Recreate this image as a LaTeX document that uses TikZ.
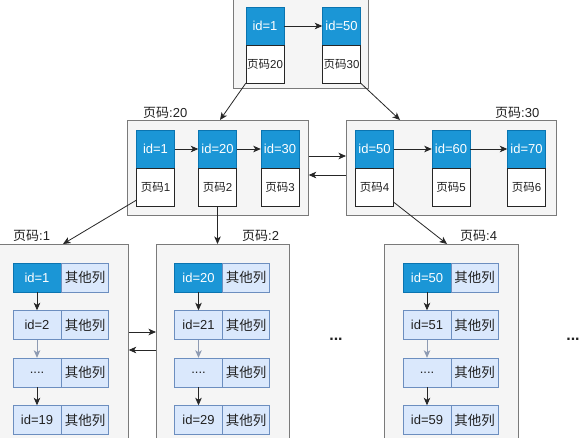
\documentclass[tikz,border=0pt]{standalone}
\usepackage{fontspec}
\setmainfont{Liberation Sans}
\newfontfamily\cjk{Noto Sans CJK SC}
\usetikzlibrary{arrows.meta,calc}
\definecolor{idblue}{HTML}{1B96D6}
\definecolor{idborder}{HTML}{0A74B0}
\definecolor{cfill}{HTML}{F5F5F5}
\definecolor{cdraw}{HTML}{7A7A7A}
\definecolor{rfill}{HTML}{DAE8FC}
\definecolor{rdraw}{HTML}{6C8EBF}
\definecolor{txt}{HTML}{222222}
\definecolor{grayarrow}{HTML}{8E9BB3}
\begin{document}
\begin{tikzpicture}[x=1pt,y=-1pt,
  container/.style={draw=cdraw, fill=cfill, line width=0.7pt, inner sep=0pt, anchor=north west},
  idbox/.style={draw=idborder, fill=idblue, text=white, minimum width=38pt, minimum height=38pt, inner sep=0pt, font=\fontsize{13}{15}\selectfont},
  pgbox/.style={draw=black!85, fill=white, minimum width=38pt, minimum height=38pt, inner sep=0pt, text=txt, font=\fontsize{11.5}{13}\selectfont},
  rowid/.style={draw=rdraw, fill=rfill, minimum width=48pt, minimum height=29pt, inner sep=0pt, text=txt, font=\fontsize{13}{15}\selectfont},
  rowidb/.style={rowid, draw=idborder, fill=idblue, text=white},
  rowoth/.style={rowid, minimum width=47pt, font=\fontsize{13.5}{15}\selectfont},
  plabel/.style={anchor=base west, inner sep=0pt, text=txt, font=\fontsize{13}{15}\selectfont},
  conn/.style={-{Stealth[length=7.5pt,width=6.5pt,inset=2pt]}, line width=0.8pt, draw=black!85},
  gconn/.style={conn, draw=grayarrow},
  dots/.style={inner sep=0pt, text=txt, font=\fontsize{16}{18}\selectfont\bfseries}
]
\useasboundingbox (0,0) rectangle (588,437);
\clip (0,0) rectangle (588,437);
\fill[white] (0,0) rectangle (588,437);

% ---------- top container ----------
\node[container, minimum width=135pt, minimum height=93pt] (ctop) at (233,-5) {};
\node[idbox] (t1) at (265,26) {id=1};
\node[pgbox] (t1p) at (265,64) {{\cjk 页码}20};
\node[idbox] (t50) at (341.5,26) {id=50};
\node[pgbox] (t50p) at (341.5,64) {{\cjk 页码}30};
\draw[conn] (t1.east) -- (t50.west);

% ---------- middle containers ----------
\node[container, minimum width=181pt, minimum height=95pt] (c20) at (127,120) {};
\node[plabel] (l20) at (143,117) {{\cjk 页码}:20};
\node[idbox] (m1) at (155.5,149) {id=1};
\node[pgbox] (m1p) at (155.5,187) {{\cjk 页码}1};
\node[idbox] (m20) at (217.5,149) {id=20};
\node[pgbox] (m20p) at (217.5,187) {{\cjk 页码}2};
\node[idbox] (m30) at (280,149) {id=30};
\node[pgbox] (m30p) at (280,187) {{\cjk 页码}3};
\draw[conn] (m1.east) -- (m20.west);
\draw[conn] (m20.east) -- (m30.west);

\node[container, minimum width=210pt, minimum height=95pt] (c30) at (346,120) {};
\node[plabel] (l30) at (495,117) {{\cjk 页码}:30};
\node[idbox] (m50) at (374.5,149) {id=50};
\node[pgbox] (m50p) at (374.5,187) {{\cjk 页码}4};
\node[idbox] (m60) at (451,149) {id=60};
\node[pgbox] (m60p) at (451,187) {{\cjk 页码}5};
\node[idbox] (m70) at (526.5,149) {id=70};
\node[pgbox] (m70p) at (526.5,187) {{\cjk 页码}6};
\draw[conn] (m50.east) -- (m60.west);
\draw[conn] (m60.east) -- (m70.west);

\draw[conn] ($(c20.north east)+(0,36)$) -- ($(c30.north west)+(0,36)$);
\draw[conn] ($(c30.north west)+(0,55)$) -- ($(c20.north east)+(0,55)$);

% top -> middle
\draw[conn] (t1p.south west) -- ($(c20.north west)+(93,0)$);
\draw[conn] (t50p.south east) -- ($(c30.north west)+(54,0)$);

% ---------- leaf containers ----------
\node[container, minimum width=130pt, minimum height=205pt] (c1) at (-2,244) {};
\node[plabel] (l1) at (13,240) {{\cjk 页码}:1};
\node[rowidb] (a1) at (37,277.5) {id=1};
\node[rowoth] (a1o) at (85,277.5) {\cjk 其他列};
\node[rowid] (a2) at (37,325) {id=2};
\node[rowoth] (a2o) at (85,325) {\cjk 其他列};
\node[rowid] (a3) at (37,372.5) {....};
\node[rowoth] (a3o) at (85,372.5) {\cjk 其他列};
\node[rowid] (a4) at (37,420) {id=19};
\node[rowoth] (a4o) at (85,420) {\cjk 其他列};
\draw[conn] (a1.south) -- (a2.north);
\draw[gconn] (a2.south) -- (a3.north);
\draw[conn] (a3.south) -- (a4.north);

\node[container, minimum width=133pt, minimum height=205pt] (c2) at (156,244) {};
\node[plabel] (l2) at (242,240) {{\cjk 页码}:2};
\node[rowidb] (b1) at (198.5,277.5) {id=20};
\node[rowoth] (b1o) at (246,277.5) {\cjk 其他列};
\node[rowid] (b2) at (198.5,325) {id=21};
\node[rowoth] (b2o) at (246,325) {\cjk 其他列};
\node[rowid] (b3) at (198.5,372.5) {....};
\node[rowoth] (b3o) at (246,372.5) {\cjk 其他列};
\node[rowid] (b4) at (198.5,420) {id=29};
\node[rowoth] (b4o) at (246,420) {\cjk 其他列};
\draw[conn] (b1.south) -- (b2.north);
\draw[gconn] (b2.south) -- (b3.north);
\draw[conn] (b3.south) -- (b4.north);

\node[container, minimum width=134pt, minimum height=205pt] (c4) at (384,244) {};
\node[plabel] (l4) at (460,240) {{\cjk 页码}:4};
\node[rowidb] (d1) at (427,277.5) {id=50};
\node[rowoth] (d1o) at (474.5,277.5) {\cjk 其他列};
\node[rowid] (d2) at (427,325) {id=51};
\node[rowoth] (d2o) at (474.5,325) {\cjk 其他列};
\node[rowid] (d3) at (427,372.5) {....};
\node[rowoth] (d3o) at (474.5,372.5) {\cjk 其他列};
\node[rowid] (d4) at (427,420) {id=59};
\node[rowoth] (d4o) at (474.5,420) {\cjk 其他列};
\draw[conn] (d1.south) -- (d2.north);
\draw[gconn] (d2.south) -- (d3.north);
\draw[conn] (d3.south) -- (d4.north);

\draw[conn] ($(c1.north east)+(0,88)$) -- ($(c2.north west)+(0,88)$);
\draw[conn] ($(c2.north west)+(0,106)$) -- ($(c1.north east)+(0,106)$);

\node[dots, anchor=base] (dm) at (336,340) {...};
\node[dots, anchor=base] (dr) at (573,340) {...};

% middle -> leaf
\draw[conn] ($(m1p.south west)+(0,-6)$) -- ($(c1.north west)+(65,0)$);
\draw[conn] (m20p.south) -- (m20p.south |- c2.north);
\draw[conn] ($(m50p.south east)+(0,-4)$) -- ($(c4.north west)+(63,0)$);
\end{tikzpicture}
\end{document}
